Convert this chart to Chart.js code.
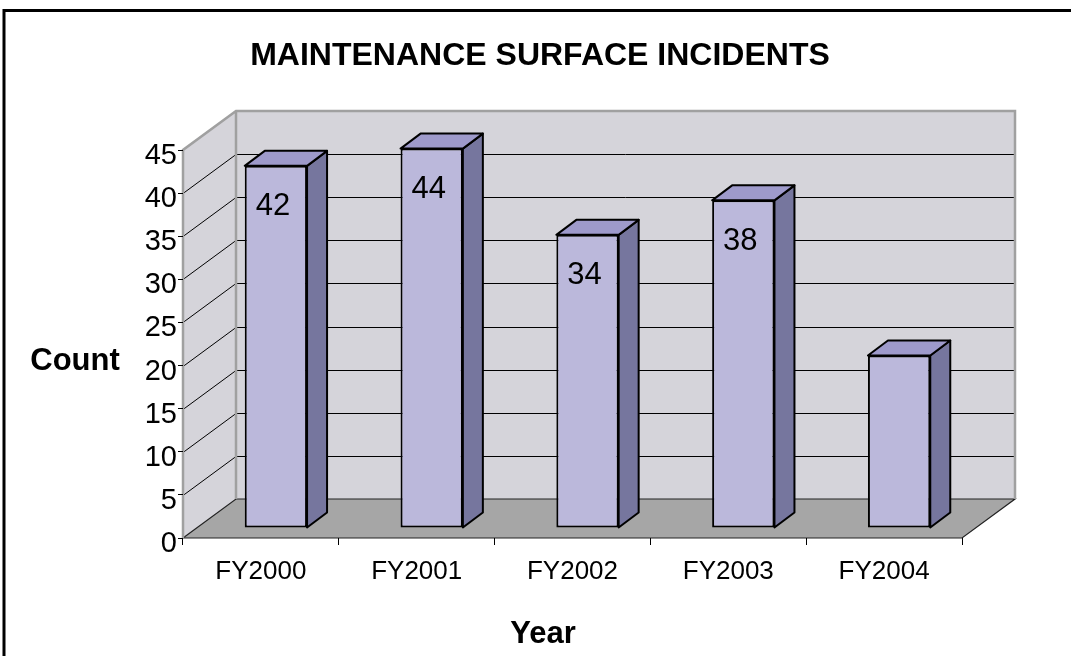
<!DOCTYPE html>
<html>
<head>
<meta charset="utf-8">
<script src="https://cdn.jsdelivr.net/npm/chart.js@4.4.1/dist/chart.umd.min.js"></script>
<style>
html,body{margin:0;padding:0;background:#fff;}
#wrap{width:1071px;height:656px;}
</style>
</head>
<body>
<div id="wrap"><canvas id="incidentBar" width="1071" height="656"></canvas></div>
<script>
// data
var categories = ['FY2000','FY2001','FY2002','FY2003','FY2004'];
var incidents = [42,44,34,38,20];
var labelShown = [true,true,true,true,false];
var yMin = 0, yMax = 45, yStep = 5;

var chartTitle = 'MAINTENANCE SURFACE INCIDENTS';
var yTitle = 'Count';
var xTitle = 'Year';

//3d 흉내용 깊이값
var wallDx = 53, wallDy = -39;
var barShiftX = 15, barShiftY = -10;
var barDx = 20, barDy = -15;

var FONT = '"Liberation Sans", Arial, Helvetica, sans-serif';

var excel3d = {
	id:'excel3d',
	beforeDraw:function(chart){
		var ctx = chart.ctx;
		var ca = chart.chartArea;
		var ys = chart.scales.y;
		var top = ys.getPixelForValue(yMax), bot = ys.getPixelForValue(yMin);
		ctx.save();
		ctx.fillStyle='#fff';
		ctx.fillRect(0,0,chart.width,chart.height);
		// 외곽 테두리
		ctx.strokeStyle='#000';
		ctx.lineWidth=3;
		ctx.strokeRect(4,10.5,1200,800);
		// 제목
		ctx.fillStyle='#000';
		ctx.textAlign='center';
		ctx.textBaseline='middle';
		ctx.font='bold 32px '+FONT;
		ctx.fillText(chartTitle,540,56);
		ctx.font='bold 31px '+FONT;
		ctx.fillText(yTitle,75,361);
		ctx.fillText(xTitle,543,634);
		// 뒷벽
		ctx.fillStyle='#D5D4DA';
		ctx.fillRect(ca.left+wallDx,top+wallDy,ca.right-ca.left,bot-top);
		// 옆벽
		ctx.beginPath();
		ctx.moveTo(ca.left,top);
		ctx.lineTo(ca.left+wallDx,top+wallDy);
		ctx.lineTo(ca.left+wallDx,bot+wallDy);
		ctx.lineTo(ca.left,bot);
		ctx.closePath();
		ctx.fill();
		// 격자
		ctx.strokeStyle='#000';
		ctx.lineWidth=1;
		for(var v=yMin+yStep;v<yMax;v+=yStep){
			var py=Math.round(ys.getPixelForValue(v))+0.5;
			ctx.beginPath();
			ctx.moveTo(ca.left,py);
			ctx.lineTo(ca.left+wallDx,py+wallDy);
			ctx.lineTo(ca.right+wallDx,py+wallDy);
			ctx.stroke();
		}
		// 바닥
		ctx.fillStyle='#A6A6A6';
		ctx.beginPath();
		ctx.moveTo(ca.left,bot);
		ctx.lineTo(ca.left+wallDx,bot+wallDy);
		ctx.lineTo(ca.right+wallDx,bot+wallDy);
		ctx.lineTo(ca.right,bot);
		ctx.closePath();
		ctx.fill();
		ctx.strokeStyle='#222';
		ctx.lineWidth=1.2;
		ctx.stroke();
		// 벽 테두리
		ctx.strokeStyle='#A0A0A0';
		ctx.lineWidth=2.5;
		ctx.beginPath();
		ctx.moveTo(ca.left,bot);
		ctx.lineTo(ca.left,top);
		ctx.lineTo(ca.left+wallDx,top+wallDy);
		ctx.lineTo(ca.right+wallDx,top+wallDy);
		ctx.lineTo(ca.right+wallDx,bot+wallDy);
		ctx.moveTo(ca.left+wallDx,top+wallDy);
		ctx.lineTo(ca.left+wallDx,bot+wallDy);
		ctx.stroke();
		ctx.restore();
	},
	beforeDatasetsDraw:function(chart){
		chart.ctx.save();
		chart.ctx.translate(barShiftX,barShiftY);
	},
	afterDatasetsDraw:function(chart){
		var ctx = chart.ctx;
		var meta = chart.getDatasetMeta(0);
		ctx.lineWidth=2;
		ctx.strokeStyle='#000';
		ctx.lineJoin='round';
		for(var i=0;i<meta.data.length;i++){
			var b = meta.data[i];
			var l = b.x-b.width/2, r = b.x+b.width/2;
			// 옆면
			ctx.fillStyle='#76769E';
			ctx.beginPath();
			ctx.moveTo(r,b.y);
			ctx.lineTo(r+barDx,b.y+barDy);
			ctx.lineTo(r+barDx,b.base+barDy);
			ctx.lineTo(r,b.base);
			ctx.closePath();
			ctx.fill();ctx.stroke();
			// 윗면
			ctx.fillStyle='#9E9ACB';
			ctx.beginPath();
			ctx.moveTo(l,b.y);
			ctx.lineTo(l+barDx,b.y+barDy);
			ctx.lineTo(r+barDx,b.y+barDy);
			ctx.lineTo(r,b.y);
			ctx.closePath();
			ctx.fill();ctx.stroke();
			// 값 표시
			if(labelShown[i]){
				ctx.fillStyle='#000';
				ctx.font='31px '+FONT;
				ctx.textAlign='center';
				ctx.textBaseline='middle';
				ctx.fillText(String(incidents[i]),b.x-3,b.y+41);
			}
		}
		ctx.restore();
	}
};

var ctx = document.getElementById('incidentBar').getContext('2d');
var barChart = new Chart(ctx,{
	type:'bar',
	data:{
		labels:categories,
		datasets:[{
			label:yTitle,
			data:incidents,
			backgroundColor:'#BBB8DB',
			borderColor:'#000',
			borderWidth:2,
			borderSkipped:false,
			categoryPercentage:1,
			barPercentage:0.4,
			clip:false
		}]
	},
	options:{
		responsive:false,
		animation:false,
		layout:{padding:{left:123,right:109,top:150,bottom:58}},
		plugins:{legend:{display:false},title:{display:false},tooltip:{enabled:false}},
		scales:{
			x:{
				afterFit:function(s){s.height=60;},
				grid:{drawOnChartArea:false,offset:true,tickLength:7,color:'#000'},
				border:{display:false},
				ticks:{color:'#000',padding:11,font:{family:FONT,size:26}}
			},
			y:{
				min:yMin,max:yMax,
				afterFit:function(s){s.width=60;},
				grid:{drawOnChartArea:false,tickLength:5,color:'#000'},
				border:{display:false},
				ticks:{stepSize:yStep,color:'#000',padding:1,labelOffset:6,font:{family:FONT,size:29}}
			}
		}
	},
	plugins:[excel3d]
});
</script>
</body>
</html>
